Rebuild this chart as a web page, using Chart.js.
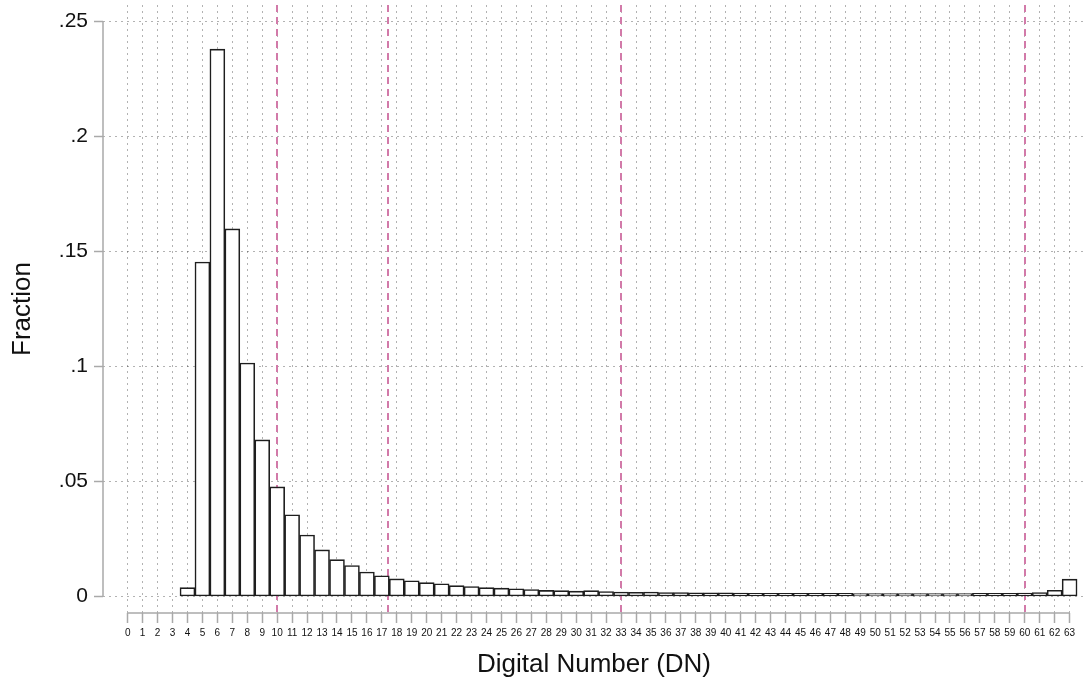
<!DOCTYPE html>
<html lang="en">
<head>
    <meta charset="UTF-8">
    <title>DN Histogram</title>
    <script src="https://cdn.jsdelivr.net/npm/chart.js"></script>
    <style>
        body {
            margin: 0;
            background: #fff;
        }
        #wrap {
            width: 1088px;
            height: 683px;
        }
    </style>
</head>
<body>
    <div id="wrap"><canvas id="chart"></canvas></div>

    <script>
        // Digital number bins 0..63
        const dn = [0, 1, 2, 3, 4, 5, 6, 7, 8, 9, 10, 11, 12, 13, 14, 15,
                    16, 17, 18, 19, 20, 21, 22, 23, 24, 25, 26, 27, 28, 29, 30, 31,
                    32, 33, 34, 35, 36, 37, 38, 39, 40, 41, 42, 43, 44, 45, 46, 47,
                    48, 49, 50, 51, 52, 53, 54, 55, 56, 57, 58, 59, 60, 61, 62, 63];

        // Fraction of pixels per bin (empty bins are null)
        const fraction = [null, null, null, null, 0.0038, 0.1453, 0.2378, 0.1597,
                          0.1014, 0.0680, 0.0476, 0.0355, 0.0267, 0.0202, 0.0160, 0.0134,
                          0.0106, 0.0090, 0.0076, 0.0068, 0.0060, 0.0055, 0.0047, 0.0043,
                          0.0038, 0.0036, 0.0033, 0.0030, 0.0026, 0.0025, 0.0023, 0.0025,
                          0.0021, 0.0019, 0.0018, 0.0019, 0.0017, 0.0017, 0.0016, 0.0016,
                          0.0016, 0.0015, 0.0014, 0.0014, 0.0013, 0.0013, 0.0013, 0.0013,
                          0.0013, 0.0012, 0.0012, 0.0012, 0.0012, 0.0012, 0.0012, 0.0012,
                          0.0012, 0.0013, 0.0013, 0.0014, 0.0015, 0.0017, 0.0027, 0.0075];

        const yTicks = [0, 0.05, 0.1, 0.15, 0.2, 0.25];

        // dashed vertical reference lines (DN values)
        const refLines = [10, 17.4, 33, 60];

        const axisColor = '#a9a9a9';
        const gridColor = 'rgba(0,0,0,0.3)';
        const refColor = '#d27aa9';

        const refPlugin = {
            id: 'refLines',
            beforeDatasetsDraw(chart) {
                const { ctx, chartArea: a, scales: { x } } = chart;
                ctx.save();
                ctx.strokeStyle = refColor;
                ctx.lineWidth = 2;
                ctx.setLineDash([7, 5]);
                refLines.forEach(v => {
                    const px = Math.round(x.getPixelForValue(v));
                    ctx.beginPath();
                    ctx.moveTo(px, a.top);
                    ctx.lineTo(px, a.bottom);
                    ctx.stroke();
                });
                ctx.restore();
            }
        };

        // axis lines only span first..last tick, like the original
        const axisPlugin = {
            id: 'axisLines',
            afterDraw(chart) {
                const { ctx, chartArea: a, scales: { x, y } } = chart;
                ctx.save();
                ctx.strokeStyle = axisColor;
                ctx.lineWidth = 1.5;
                ctx.beginPath();
                ctx.moveTo(a.left, y.getPixelForValue(yTicks[yTicks.length - 1]));
                ctx.lineTo(a.left, y.getPixelForValue(yTicks[0]));
                ctx.moveTo(x.getPixelForValue(dn[0]), a.bottom);
                ctx.lineTo(x.getPixelForValue(dn[dn.length - 1]), a.bottom);
                ctx.stroke();
                ctx.restore();
            }
        };

        const ctx = document.getElementById('chart').getContext('2d');
        const chart = new Chart(ctx, {
            type: 'bar',
            data: {
                datasets: [{
                    label: 'Fraction',
                    data: fraction.map((v, i) => ({ x: dn[i], y: v })),
                    backgroundColor: '#ffffff',
                    borderColor: '#1e1e1e',
                    borderWidth: 1.6,
                    borderSkipped: false,
                    categoryPercentage: 1.0,
                    barPercentage: 1.0
                }]
            },
            options: {
                responsive: true,
                maintainAspectRatio: false,
                animation: false,
                layout: {
                    padding: { top: 5, right: 3, left: 0, bottom: 0 }
                },
                plugins: {
                    legend: { display: false },
                    tooltip: { enabled: false }
                },
                scales: {
                    x: {
                        type: 'linear',
                        min: -1.65,
                        max: 64.03,
                        offset: false,
                        afterBuildTicks: scale => {
                            scale.ticks = dn.map(v => ({ value: v }));
                        },
                        afterFit: scale => {
                            scale.height = 70;
                            scale.paddingLeft = 0;
                            scale.paddingRight = 0;
                        },
                        border: { display: false, dash: [2, 4] },
                        grid: {
                            offset: false,
                            color: gridColor,
                            lineWidth: 1,
                            drawTicks: true,
                            tickLength: 10,
                            tickColor: axisColor,
                            tickWidth: 1.5,
                            tickBorderDash: []
                        },
                        ticks: {
                            autoSkip: false,
                            maxRotation: 0,
                            padding: 4,
                            color: '#111',
                            font: { family: 'Liberation Sans', size: 10 }
                        },
                        title: {
                            display: true,
                            text: 'Digital Number (DN)',
                            color: '#111',
                            font: { family: 'Liberation Sans', size: 26 },
                            padding: { top: 4, bottom: 3 }
                        }
                    },
                    y: {
                        min: -0.0072,
                        max: 0.257,
                        afterBuildTicks: scale => {
                            scale.ticks = yTicks.map(v => ({ value: v }));
                        },
                        afterFit: scale => {
                            scale.width = 103;
                            scale.paddingTop = 0;
                            scale.paddingBottom = 0;
                        },
                        border: { display: false, dash: [2, 4] },
                        grid: {
                            color: gridColor,
                            lineWidth: 1,
                            drawTicks: true,
                            tickLength: 9,
                            tickColor: axisColor,
                            tickWidth: 1.5,
                            tickBorderDash: []
                        },
                        ticks: {
                            padding: 6,
                            color: '#111',
                            font: { family: 'Liberation Sans', size: 21 },
                            callback: v => (v === 0 ? '0' : String(v).replace(/^0/, ''))
                        },
                        title: {
                            display: true,
                            text: 'Fraction',
                            color: '#111',
                            font: { family: 'Liberation Sans', size: 26 },
                            padding: { top: 7, bottom: 4 }
                        }
                    }
                }
            },
            plugins: [refPlugin, axisPlugin]
        });
    </script>
</body>
</html>
